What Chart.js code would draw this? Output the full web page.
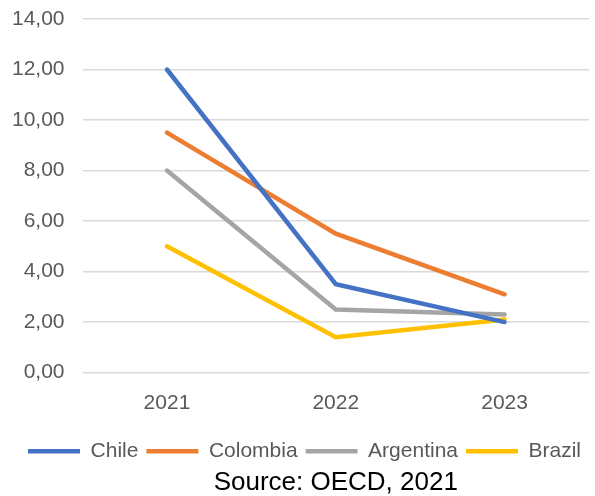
<!DOCTYPE html>
<html>
<head>
<meta charset="utf-8">
<script src="https://cdn.jsdelivr.net/npm/chart.js@4/dist/chart.umd.min.js"></script>
<style>
  html, body { margin: 0; padding: 0; background: #fff; }
  #wrap { width: 595px; height: 496px; }
</style>
</head>
<body>
<div id="wrap"><canvas id="lineChart"></canvas></div>
<script>
const years = ['2021', '2022', '2023'];
const chile = [12.0, 3.5, 2.0];
const colombia = [9.5, 5.5, 3.1];
const argentina = [8.0, 2.5, 2.3];
const brazil = [5.0, 1.4, 2.1];

const mkSet = (label, data, color) => ({
    label: label,
    data: data,
    borderColor: color,
    backgroundColor: color,
    borderWidth: 4.5,
    borderCapStyle: 'round',
    pointRadius: 0,
    pointStyle: 'line',
    tension: 0
});

const ctx = document.getElementById('lineChart').getContext('2d');
new Chart(ctx, {
    type: 'line',
    data: {
        labels: years,
        datasets: [
            mkSet('Chile', chile, '#4472C4'),
            mkSet('Colombia', colombia, '#ED7D31'),
            mkSet('Argentina', argentina, '#A5A5A5'),
            mkSet('Brazil', brazil, '#FFC000')
        ]
    },
    options: {
        responsive: true,
        maintainAspectRatio: false,
        animation: false,
        layout: { padding: { left: -6, right: 6, top: 0, bottom: -2 } },
        plugins: {
            legend: {
                position: 'bottom',
                align: 'end',
                labels: {
                    usePointStyle: true,
                    pointStyleWidth: 52,
                    padding: 8,
                    color: '#595959',
                    font: { family: 'Liberation Sans', size: 21 }
                }
            },
            title: {
                display: true,
                position: 'bottom',
                fullSize: false,
                text: 'Source: OECD, 2021',
                color: '#000',
                padding: { top: -5, bottom: 0 },
                font: { family: 'Liberation Sans', size: 26, weight: 'normal' }
            },
            tooltip: { enabled: false }
        },
        scales: {
            x: {
                offset: true,
                grid: { display: false },
                border: { display: false },
                ticks: {
                    color: '#595959',
                    padding: 10,
                    font: { family: 'Liberation Sans', size: 21 }
                },
                afterFit: s => { s.height += 7; }
            },
            y: {
                min: 0,
                max: 14,
                border: { display: false },
                grid: { color: '#D9D9D9', lineWidth: 1.5, drawTicks: false },
                ticks: {
                    stepSize: 2,
                    color: '#595959',
                    padding: 18,
                    font: { family: 'Liberation Sans', size: 21 },
                    callback: v => v.toFixed(2).replace('.', ',')
                },
                afterFit: s => { s.paddingTop = 19; }
            }
        }
    }
});
</script>
</body>
</html>
